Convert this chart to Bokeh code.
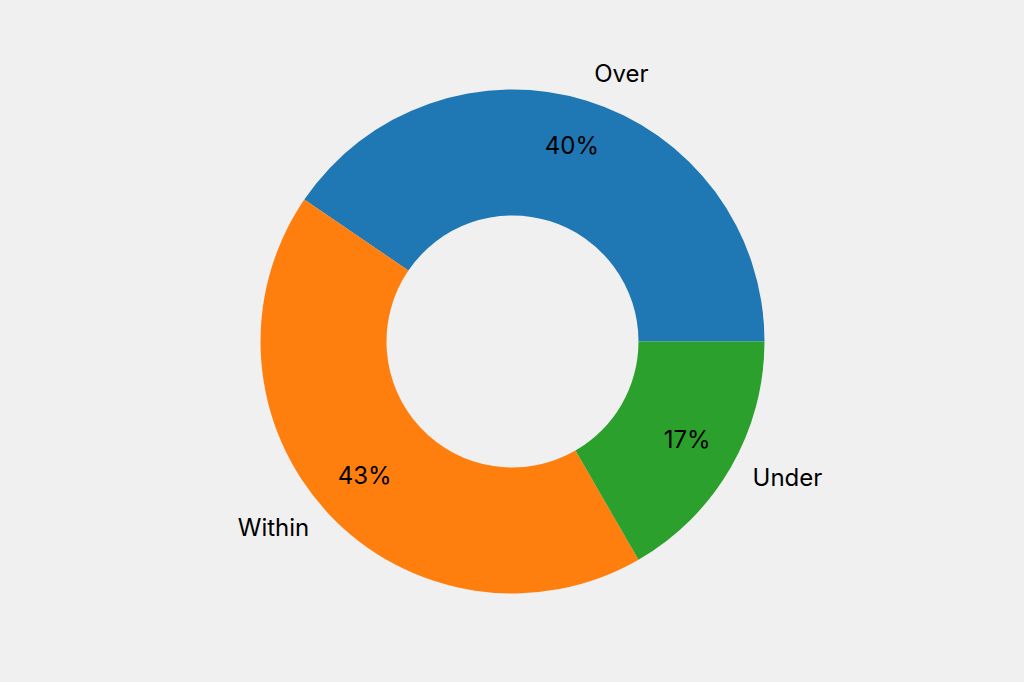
import numpy as np
from bokeh.plotting import figure
from bokeh.models import ColumnDataSource, Range1d
from bokeh.core.properties import value
from bokeh.embed import file_html
from bokeh.resources import INLINE

# data (counts)
categories = ["Over", "Within", "Under"]
counts = [17, 18, 7]
colors = ["#1f77b4", "#ff7f0e", "#2ca02c"]

bg = "#f0f0f0"
R = 252.0          # outer radius in px-like data units
R_in = 126.0       # inner radius

fracs = np.array(counts, dtype=float) / sum(counts)
ends = np.cumsum(fracs) * 2 * np.pi
starts = ends - fracs * 2 * np.pi
mids = (starts + ends) / 2

src = ColumnDataSource(dict(cat=categories, start=starts, end=ends, color=colors))

lab = ColumnDataSource(dict(
    x=1.1 * R * np.cos(mids),
    y=1.1 * R * np.sin(mids),
    text=categories,
    align=["left" if c > 0 else "right" for c in np.cos(mids)],
))
pct = ColumnDataSource(dict(
    x=0.8 * R * np.cos(mids),
    y=0.8 * R * np.sin(mids),
    text=["%d%%" % round(f * 100) for f in fracs],
))

p = figure(width=1024, height=682, output_backend="svg", toolbar_location=None,
           x_range=Range1d(-512, 512), y_range=Range1d(-341, 341),
           min_border=0)
p.axis.visible = False
p.grid.visible = False
p.outline_line_color = None
p.background_fill_color = bg
p.border_fill_color = bg

p.annular_wedge(x=0, y=0, inner_radius=R_in, outer_radius=R,
                start_angle="start", end_angle="end", color="color",
                line_color=None, source=src)

p.text(x="x", y="y", text="text", source=lab, text_align="align",
       text_baseline="middle", y_offset=-3, text_font=value("Inter"),
       text_font_size="24px", text_color="#000000")
p.text(x="x", y="y", text="text", source=pct, text_align="center",
       text_baseline="middle", y_offset=-3, text_font=value("Inter"),
       text_font_size="24px", text_color="#000000")

html = file_html(p, INLINE)
css = "<style>html,body{margin:0;padding:0;background:%s;overflow:hidden}</style>" % bg
html = html.replace("</head>", css + "</head>", 1)
open("out.html", "w").write(html)
